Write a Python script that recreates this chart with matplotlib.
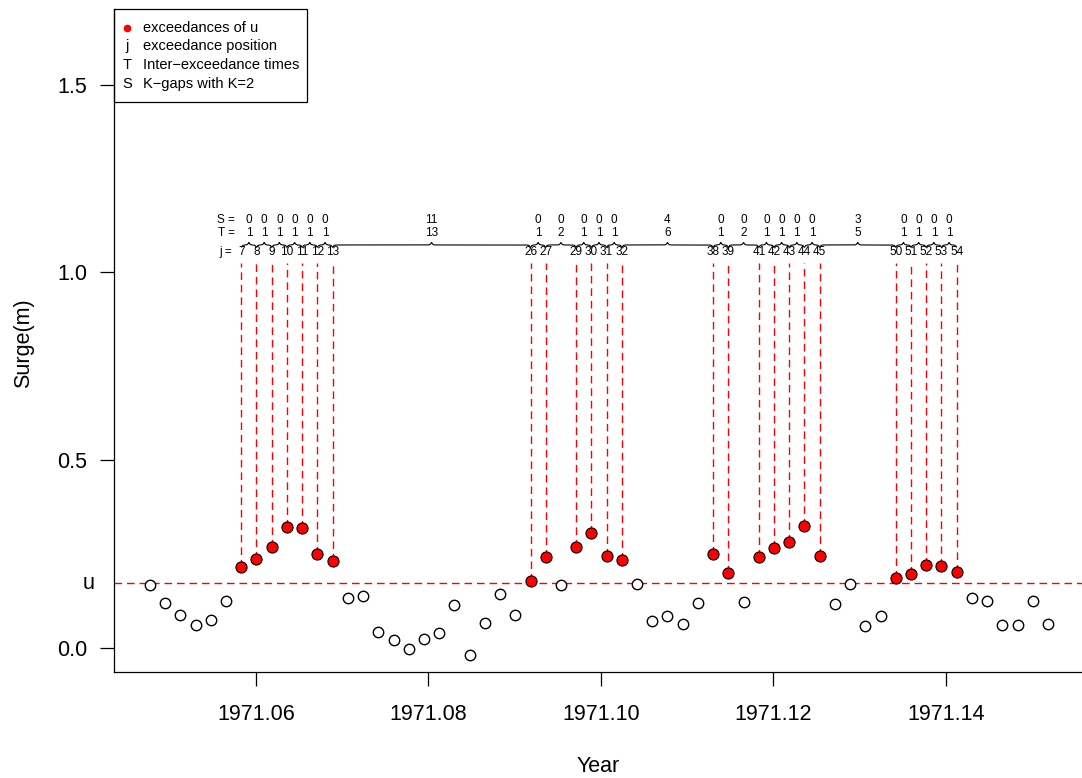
import numpy as np
import matplotlib
matplotlib.use("Agg")
import matplotlib.pyplot as plt
from matplotlib.patches import Rectangle
import matplotlib.transforms as mtransforms

plt.rcParams['font.family'] = ['Liberation Sans', 'DejaVu Sans']

# time axis (fractional years) and surge levels
years = [1971.04771, 1971.04947, 1971.05124, 1971.05300, 1971.05477, 1971.05653,
         1971.05830, 1971.06006, 1971.06183, 1971.06359, 1971.06536, 1971.06712,
         1971.06889, 1971.07065, 1971.07242, 1971.07418, 1971.07595, 1971.07771,
         1971.07948, 1971.08124, 1971.08300, 1971.08477, 1971.08653, 1971.08830,
         1971.09006, 1971.09183, 1971.09359, 1971.09536, 1971.09712, 1971.09889,
         1971.10065, 1971.10242, 1971.10418, 1971.10595, 1971.10771, 1971.10948,
         1971.11124, 1971.11300, 1971.11477, 1971.11653, 1971.11830, 1971.12006,
         1971.12183, 1971.12359, 1971.12536, 1971.12712, 1971.12889, 1971.13065,
         1971.13242, 1971.13418, 1971.13595, 1971.13771, 1971.13948, 1971.14124,
         1971.14301, 1971.14477, 1971.14654, 1971.14830, 1971.15007, 1971.15183]
surge = [0.168, 0.119, 0.088, 0.061, 0.075, 0.126, 0.216, 0.238, 0.270, 0.323,
         0.320, 0.251, 0.232, 0.134, 0.138, 0.043, 0.021, -0.003, 0.024, 0.039,
         0.114, -0.019, 0.066, 0.144, 0.087, 0.178, 0.242, 0.167, 0.270, 0.306,
         0.246, 0.234, 0.171, 0.071, 0.085, 0.064, 0.119, 0.250, 0.201, 0.123,
         0.242, 0.266, 0.281, 0.326, 0.245, 0.117, 0.171, 0.059, 0.085, 0.187,
         0.197, 0.222, 0.218, 0.203, 0.133, 0.124, 0.062, 0.061, 0.125, 0.064]
u = 0.173
K = 2

xticks = [1971.06, 1971.08, 1971.10, 1971.12, 1971.14]
yticks = [0.0, 0.5, 1.0, 1.5]
legend_symbols = ['j', 'T', 'S']
legend_labels = ['exceedances of u', 'exceedance position',
                 'Inter\u2212exceedance times', 'K\u2212gaps with K=2']

x = np.array(years)
y = np.array(surge)
exc = np.where(y > u)[0]
j_pos = exc + 1
T = np.diff(j_pos)
S = np.maximum(T - K, 0)


def draw_brace(ax, xa, xb, ybase, height, px_per_x, beta=1.4):
    n = 201
    xs = np.linspace(xa, xb, n)
    half = xs[:n // 2 + 1]
    p = (half - xa) * px_per_x
    q = (half - half[-1]) * px_per_x
    yh = 1 / (1 + np.exp(-beta * p)) + 1 / (1 + np.exp(-beta * q))
    ys = np.concatenate([yh, yh[-2::-1]])
    ax.plot(xs, ybase + height * (ys - 1), color='black', lw=0.8,
            solid_capstyle='butt', zorder=3)


fig = plt.figure(figsize=(10.82, 7.78), dpi=100)
ax = fig.add_axes([114 / 1082, 1 - 672 / 778, 968 / 1082, 663 / 778])
ax.set_xlim(1971.04354, 1971.15577)
ax.set_ylim(-0.0639, 1.7017)

ax.spines['top'].set_visible(False)
ax.spines['right'].set_visible(False)
ax.spines['left'].set_linewidth(0.9)
ax.spines['bottom'].set_linewidth(0.9)

ax.set_xticks(xticks)
ax.set_xticklabels([f"{v:.2f}" for v in xticks])
ax.set_yticks(yticks)
ax.set_yticklabels([f"{v:.1f}" for v in yticks])
ax.tick_params(axis='both', direction='out', length=10, width=0.9,
               labelsize=15.5)
ax.tick_params(axis='x', pad=13)
ax.tick_params(axis='y', pad=9)

dash = (0, (5.5, 3.5))
ax.axhline(u, color='red', lw=1.0, ls=dash, zorder=1)
ax.vlines(x[exc], y[exc], 1.025, colors='red', lw=1.0, linestyles=dash, zorder=1)

mask = np.ones(len(x), dtype=bool)
mask[exc] = False
ax.plot(x[mask], y[mask], 'o', mfc='white', mec='black', ms=7.5, mew=1.0,
        zorder=4)
ax.plot(x[exc], y[exc], 'o', mfc='red', mec='black', ms=8, mew=0.8,
        zorder=5)

# annotation rows above the exceedances
ax_w_px = ax.get_position().width * fig.get_figwidth() * fig.dpi
px_per_x = ax_w_px / (ax.get_xlim()[1] - ax.get_xlim()[0])
ann_fs = 8.5
for k in range(len(exc) - 1):
    xa, xb = x[exc[k]], x[exc[k + 1]]
    mid = (xa + xb) / 2
    draw_brace(ax, xa, xb, 1.0733, 0.0133, px_per_x)
    ax.text(mid, 1.105, str(T[k]), ha='center', va='center', fontsize=ann_fs)
    ax.text(mid, 1.140, str(S[k]), ha='center', va='center', fontsize=ann_fs)
for k, e in enumerate(exc):
    ax.text(x[e], 1.055, str(j_pos[k]), ha='center', va='center', fontsize=ann_fs)
x0 = x[exc[0]]
ax.text(x0 - 0.0007, 1.140, 'S =', ha='right', va='center', fontsize=ann_fs)
ax.text(x0 - 0.0007, 1.105, 'T =', ha='right', va='center', fontsize=ann_fs)
ax.text(x0 - 0.0011, 1.055, 'j =', ha='right', va='center', fontsize=ann_fs)

# "u" label on the y axis
trans = mtransforms.blended_transform_factory(ax.transAxes, ax.transData)
ax.text(-0.0196, u, 'u', transform=trans, ha='right', va='center',
        fontsize=15.5)

# legend box drawn by hand
ax.add_patch(Rectangle((0, 0.8597), 0.1994, 0.1403, transform=ax.transAxes,
                       fill=False, ec='black', lw=0.9, clip_on=False, zorder=6))
rows = [0.9713, 0.9442, 0.9155, 0.8869]
ax.plot([0.0134], [rows[0]], 'o', color='red', ms=4.5, transform=ax.transAxes,
        clip_on=False, zorder=7)
for sym, ry in zip(legend_symbols, rows[1:]):
    ax.text(0.0134, ry, sym, transform=ax.transAxes, ha='center', va='center',
            fontsize=10.5)
for lab, ry in zip(legend_labels, rows):
    ax.text(0.030, ry, lab, transform=ax.transAxes, ha='left', va='center',
            fontsize=10.5)

fig.text(24 / 1082, 1 - 343 / 778, 'Surge(m)', rotation=90, ha='center',
         va='center', fontsize=15.5)
fig.text(598 / 1082, 1 - 766 / 778, 'Year', ha='center', va='center',
         fontsize=15.5)

fig.savefig('out.png', dpi=100)
